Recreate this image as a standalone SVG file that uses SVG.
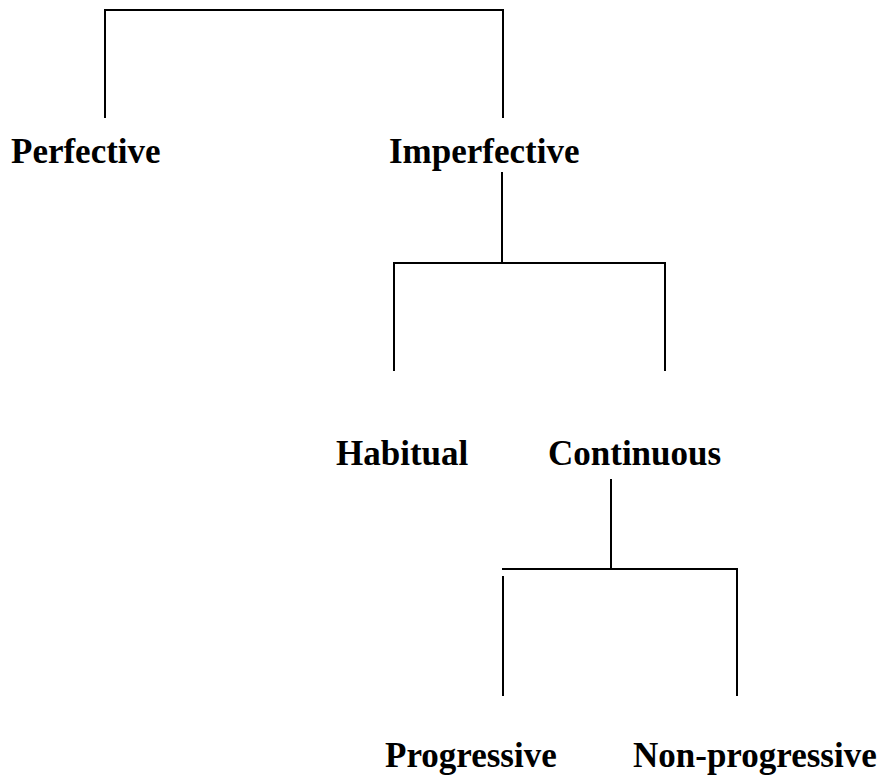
<svg xmlns="http://www.w3.org/2000/svg" width="879" height="776" viewBox="0 0 879 776">
  <style>
    .lbl { font-family: "Liberation Serif", "Times New Roman", serif; font-weight: bold; font-size: 35px; fill: #000; }
    .edge { fill: none; stroke: #000; stroke-width: 2; stroke-linecap: butt; }
  </style>
  <rect width="879" height="776" fill="#fff"/>

  <!-- tree branches -->
  <g id="connectors">
    <!-- aspect splits into perfective / imperfective -->
    <path class="edge" d="M105,118 V10 H503 V118"/>
    <!-- imperfective splits into habitual / continuous -->
    <path class="edge" d="M502,172 V263"/>
    <path class="edge" d="M394,371 V263 H665 V371"/>
    <!-- continuous splits into progressive / non-progressive -->
    <path class="edge" d="M611,479 V569"/>
    <path class="edge" d="M502,569 H737 V696"/>
    <path class="edge" d="M503,576 V696"/>
  </g>

  <g id="perfective"><text class="lbl" x="11" y="163">Perfective</text></g>
  <g id="imperfective"><text class="lbl" x="389" y="163">Imperfective</text></g>
  <g id="habitual"><text class="lbl" x="336" y="465">Habitual</text></g>
  <g id="continuous"><text class="lbl" x="548" y="465">Continuous</text></g>
  <g id="progressive"><text class="lbl" x="385" y="767">Progressive</text></g>
  <g id="non-progressive"><text class="lbl" x="633" y="767">Non-progressive</text></g>
</svg>
